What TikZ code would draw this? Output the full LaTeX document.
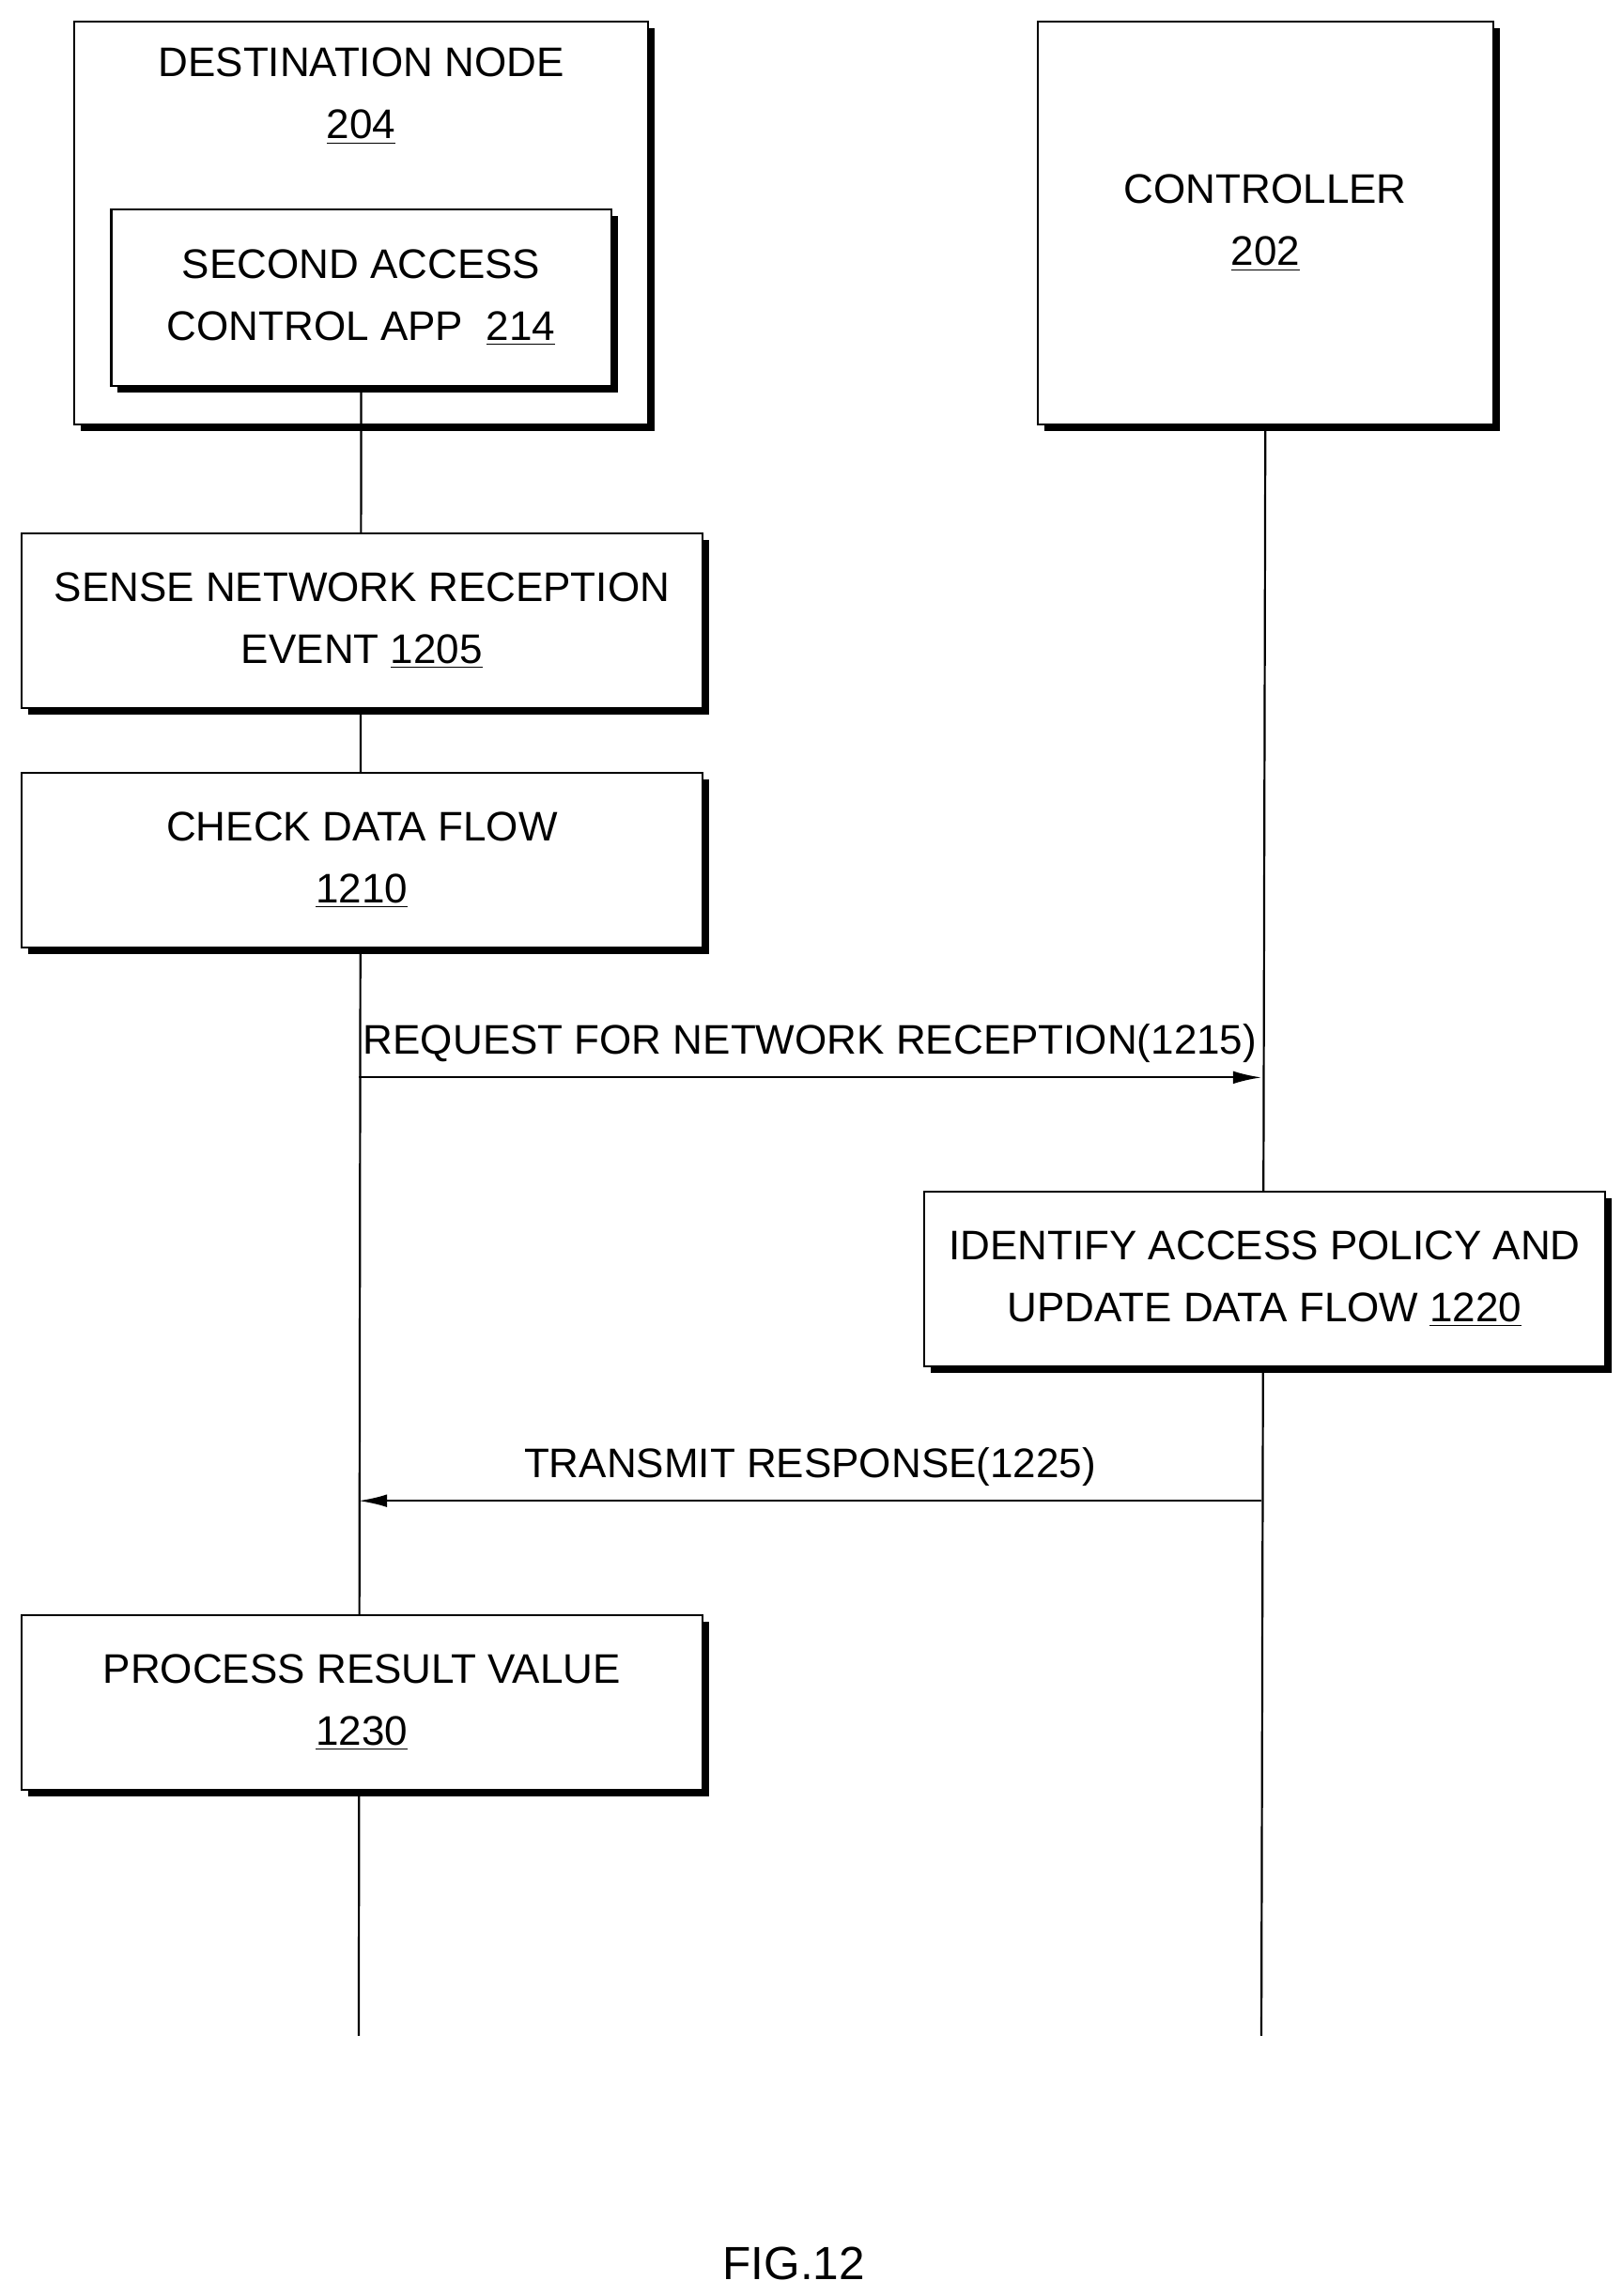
\documentclass[tikz,border=0pt]{standalone}
\usepackage{fontspec}
\setmainfont{Liberation Sans}
\usetikzlibrary{arrows.meta,shadows,positioning}

\begin{document}
\begin{tikzpicture}[
  box/.style={draw, thick, fill=white, align=center, font=\fontsize{16}{24}\selectfont,
    general shadow={fill=black, shadow xshift=2.5pt, shadow yshift=-2.5pt}},
  stepbox/.style={box, minimum width=9.26cm, minimum height=2.38cm},
  life/.style={thick},
  msg/.style={thick, -{Latex[length=11pt,width=5pt]}},
  lbl/.style={font=\fontsize{16}{20}\selectfont}
]
  \useasboundingbox (0,0) rectangle (22.06,-31.24);
  % participants
  \node[box, minimum width=7.8cm, minimum height=5.48cm, anchor=north west]
    (dest) at (1.0,-0.28) {};
  \node[lbl, align=center, below=0.25cm of dest.north, font=\fontsize{16}{24}\selectfont]
    (destlbl) {DESTINATION NODE\\\underline{204}};
  \node[box, minimum width=6.8cm, minimum height=2.4cm, anchor=north west]
    (app) at (1.5,-2.84) {SECOND ACCESS\\CONTROL APP \ \underline{214}};
  \node[box, minimum width=6.2cm, minimum height=5.48cm, anchor=north west]
    (ctrl) at (14.1,-0.28) {CONTROLLER\\\underline{202}};
  % lifelines
  \coordinate (lend) at (4.88,-27.7);
  \coordinate (rend) at (17.16,-27.7);
  \draw[life] (app.south) -- (lend);
  \draw[life] (ctrl.south) -- (rend);
  % steps
  \node[stepbox, anchor=north west] (s1205) at (0.28,-7.24) {SENSE NETWORK RECEPTION\\EVENT \underline{1205}};
  \node[stepbox, anchor=north west] (s1210) at (0.28,-10.5) {CHECK DATA FLOW\\\underline{1210}};
  \node[stepbox, anchor=north west] (s1220) at (12.56,-16.2) {IDENTIFY ACCESS POLICY AND\\UPDATE DATA FLOW \underline{1220}};
  \node[stepbox, anchor=north west] (s1230) at (0.28,-21.96) {PROCESS RESULT VALUE\\\underline{1230}};
  % messages
  \coordinate (m1a) at (4.88,-14.66);
  \coordinate (m1b) at (17.16,-14.66);
  \draw[msg] (m1a) -- node[lbl, above=2pt] (l1215) {REQUEST FOR NETWORK RECEPTION(1215)} (m1b);
  \coordinate (m2a) at (17.16,-20.42);
  \coordinate (m2b) at (4.88,-20.42);
  \draw[msg] (m2a) -- node[lbl, above=2pt] (l1225) {TRANSMIT RESPONSE(1225)} (m2b);
  \node[lbl, font=\fontsize{18}{22}\selectfont] (fig) at (10.8,-30.8) {FIG.12};
\end{tikzpicture}
\end{document}
